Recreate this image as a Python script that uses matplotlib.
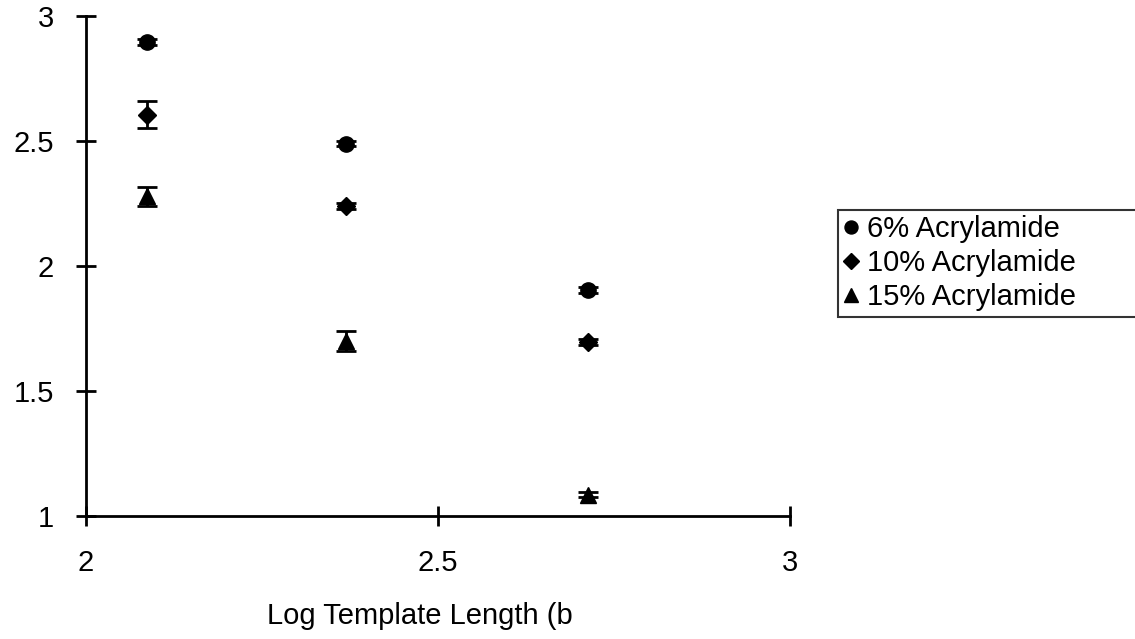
import matplotlib.pyplot as plt

plt.rcParams['font.family'] = ['Liberation Sans', 'DejaVu Sans']

# log template length values
log_len = [2.087, 2.369, 2.713]
# mobility values per gel concentration, with error
acr6 = [2.895, 2.488, 1.905]
acr6_err = [0.012, 0.010, 0.012]
acr10 = [2.605, 2.238, 1.697]
acr10_err = [0.055, 0.012, 0.012]
acr15 = [2.278, 1.698, 1.085]
acr15_err = [0.038, 0.040, 0.010]

fig = plt.figure(figsize=(11.35, 6.39), dpi=100)
ax = fig.add_axes([0.0758, 0.1925, 0.6203, 0.7825])

ax.errorbar(log_len, acr6, yerr=acr6_err, fmt='o', color='black', ms=11,
            capsize=7, elinewidth=2, capthick=2, label='6% Acrylamide')
ax.errorbar(log_len, acr10, yerr=acr10_err, fmt='D', color='black', ms=9,
            capsize=7, elinewidth=2, capthick=2, label='10% Acrylamide')
ax.errorbar(log_len, acr15, yerr=acr15_err, fmt='^', color='black', ms=12,
            capsize=7, elinewidth=2, capthick=2, label='15% Acrylamide')

ax.set_xlim(2, 3)
ax.set_ylim(1, 3)
ax.set_xticks([2, 2.5, 3])
ax.set_xticklabels(['2', '2.5', '3'])
ax.set_yticks([1, 1.5, 2, 2.5, 3])
ax.set_yticklabels(['1', '1.5', '2', '2.5', '3'])
for s in ['top', 'right']:
    ax.spines[s].set_visible(False)
for s in ['left', 'bottom']:
    ax.spines[s].set_linewidth(2)
ax.tick_params(direction='inout', length=14, width=2, labelsize=21)
ax.tick_params(axis='x', pad=17)
ax.tick_params(axis='y', pad=16)

ax.set_xlabel('Log Template Length (b', fontsize=21)
ax.xaxis.set_label_coords(0.474, -0.172)

handles, labels = ax.get_legend_handles_labels()
handles = [h[0] for h in handles]
leg = fig.legend(handles, labels, loc='upper left',
                 bbox_to_anchor=(0.738, 0.502, 0.3, 0.17), mode='expand',
                 fontsize=21, frameon=True, fancybox=False, borderaxespad=0,
                 handlelength=0.5, handletextpad=0.3, borderpad=0.2,
                 labelspacing=0.2, markerscale=0.85)
leg.get_frame().set_edgecolor('black')
leg.get_frame().set_linewidth(1.5)

fig.savefig('out.png', dpi=100)
